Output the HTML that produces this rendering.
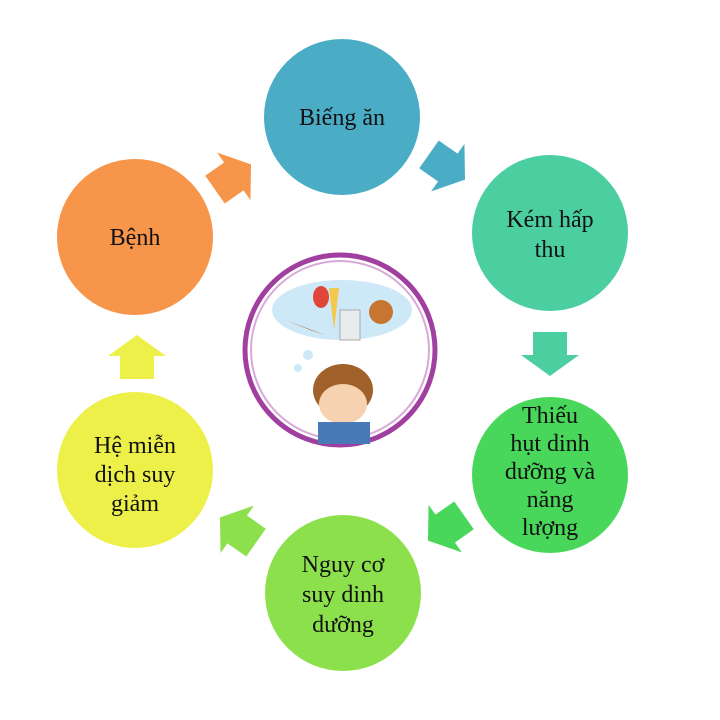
<!DOCTYPE html>
<html><head><meta charset="utf-8"><style>
html,body{margin:0;padding:0;background:#fff}
svg{display:block}
text{font-family:"Liberation Serif","DejaVu Serif",serif;font-size:24px;fill:#111;text-anchor:middle}
</style></head><body>
<svg width="720" height="720" viewBox="0 0 720 720">
<defs>
<polygon id="ar" points="-22,-17 1,-17 1,-29 22,0 1,29 1,17 -22,17"/>
</defs>
<circle cx="342" cy="117" r="78" fill="#4BACC6"/>
<circle cx="550" cy="233" r="78" fill="#4BCFA0"/>
<circle cx="550" cy="475" r="78" fill="#48D75A"/>
<circle cx="343" cy="593" r="78" fill="#8BE04C"/>
<circle cx="135" cy="470" r="78" fill="#EEF04A"/>
<circle cx="135" cy="237" r="78" fill="#F7954A"/>
<use href="#ar" fill="#F7954A" transform="translate(233,177) rotate(-35)"/>
<use href="#ar" fill="#4BACC6" transform="translate(447,167) rotate(35)"/>
<use href="#ar" fill="#4BCFA0" transform="translate(550,354) rotate(90)"/>
<use href="#ar" fill="#48D75A" transform="translate(446,528) rotate(145)"/>
<use href="#ar" fill="#8BE04C" transform="translate(238,530) rotate(-145)"/>
<use href="#ar" fill="#EEF04A" transform="translate(137,357) rotate(-90)"/>
<circle cx="340" cy="350" r="95" fill="#fff" stroke="#A03FA0" stroke-width="5"/>
<circle cx="340" cy="350" r="89" fill="none" stroke="#D9A8D9" stroke-width="2"/>
<ellipse cx="342" cy="310" rx="70" ry="30" fill="#CDE8F6"/>
<circle cx="308" cy="355" r="5" fill="#CDE8F6"/><circle cx="298" cy="368" r="4" fill="#CDE8F6"/>
<polygon points="285,320 310,330 325,335" fill="#B5652A"/>
<ellipse cx="321" cy="297" rx="8" ry="11" fill="#E0453A"/>
<polygon points="329,288 339,288 334,330" fill="#F2C94C"/>
<rect x="340" y="310" width="20" height="30" fill="#E8ECEF" stroke="#aaa"/>
<circle cx="381" cy="312" r="12" fill="#C87533"/>
<ellipse cx="343" cy="390" rx="30" ry="26" fill="#A0612A"/>
<ellipse cx="343" cy="404" rx="24" ry="20" fill="#F6D2B0"/>
<rect x="318" y="422" width="52" height="22" fill="#4A79B8"/>
<text x="342" y="125">Biếng ăn</text>
<text x="550" y="227">Kém hấp</text>
<text x="550" y="257">thu</text>
<text x="550" y="423">Thiếu</text>
<text x="550" y="451">hụt dinh</text>
<text x="550" y="479">dưỡng và</text>
<text x="550" y="507">năng</text>
<text x="550" y="535">lượng</text>
<text x="343" y="572">Nguy cơ</text>
<text x="343" y="602">suy dinh</text>
<text x="343" y="632">dưỡng</text>
<text x="135" y="453">Hệ miễn</text>
<text x="135" y="482">dịch suy</text>
<text x="135" y="511">giảm</text>
<text x="135" y="245">Bệnh</text>
</svg>
</body></html>
